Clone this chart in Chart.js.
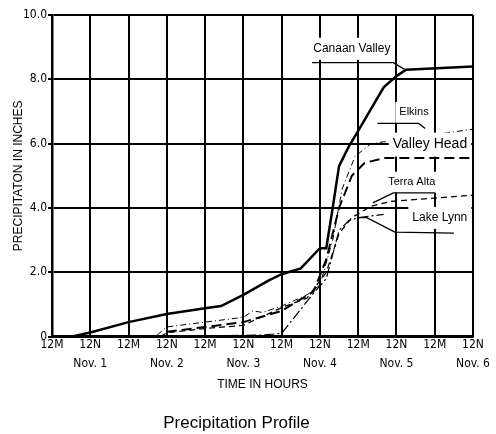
<!DOCTYPE html>
<html lang="en">
<head>
<meta charset="UTF-8">
<title>Precipitation Profile</title>
<script src="https://cdn.jsdelivr.net/npm/chart.js"></script>
<style>
    html, body { margin: 0; padding: 0; background: #fff; }
    #wrap { width: 496px; height: 434px; }
</style>
</head>
<body>
<div id="wrap"><canvas id="precipChart"></canvas></div>
<script>
// x = hours since 12M Nov. 1, y = cumulative precipitation in inches
const tickLabels = ['12M', '12N', '12M', '12N', '12M', '12N', '12M', '12N', '12M', '12N', '12M', '12N'];
const dayLabels = ['', 'Nov. 1', '', 'Nov. 2', '', 'Nov. 3', '', 'Nov. 4', '', 'Nov. 5', '', 'Nov. 6'];
const yTicks = [0, 2, 4, 6, 8, 10];

const canaanHours = [6, 12, 24, 36, 48, 53, 60, 68, 72, 78, 84, 86, 88, 90, 93, 96, 104, 108, 111, 132];
const canaanValues = [0, 0.13, 0.45, 0.7, 0.88, 0.95, 1.3, 1.75, 1.94, 2.12, 2.75, 2.75, 4.0, 5.3, 5.9, 6.4, 7.75, 8.1, 8.3, 8.4];

const elkinsHours = [33, 36, 48, 60, 63, 66, 72, 80, 84, 88, 91, 95, 100, 132];
const elkinsValues = [0.05, 0.3, 0.45, 0.6, 0.8, 0.75, 0.95, 1.3, 1.6, 3.0, 4.6, 5.6, 6.0, 6.45];

const valleyHeadHours = [36, 48, 60, 72, 82, 86, 90, 94, 98, 104, 132];
const valleyHeadValues = [0.15, 0.3, 0.45, 0.8, 1.4, 2.4, 4.0, 5.0, 5.4, 5.55, 5.55];

const terraAltaHours = [34, 36, 48, 60, 72, 80, 86, 90, 94, 100, 106, 132];
const terraAltaValues = [0, 0.12, 0.25, 0.35, 0.9, 1.2, 2.0, 3.2, 3.7, 4.05, 4.2, 4.4];

const lakeLynnHours = [44, 54, 66, 72, 76, 82, 86, 90, 93, 96, 104];
const lakeLynnValues = [0, 0.03, 0.05, 0.1, 0.6, 1.35, 1.8, 3.3, 3.6, 3.7, 3.8];

// station names written on the plot, with their underline / leader line (data units)
const callouts = [
    { text: 'Canaan Valley', at: [94, 8.95], size: 12, line: [[81.5, 8.52], [107, 8.52], [110.7, 8.3]] },
    { text: 'Elkins', at: [113.5, 6.97], size: 11, line: [[102, 6.63], [115, 6.63], [117, 6.47]] },
    { text: 'Valley Head', at: [118.5, 5.97], size: 14, line: [] },
    { text: 'Terra Alta', at: [112.8, 4.8], size: 11, line: [[100.6, 4.16], [107, 4.47], [120, 4.47]] },
    { text: 'Lake Lynn', at: [121.6, 3.69], size: 12, line: [[95.6, 3.7], [98.7, 3.7], [107.5, 3.25], [126, 3.22]] }
];

function toPoints(hours, values) {
    return hours.map((h, i) => ({ x: h, y: values[i] }));
}

const calloutPlugin = {
    id: 'callouts',
    afterDatasetsDraw(chart) {
        const { ctx, scales: { x, y } } = chart;
        ctx.save();
        callouts.forEach(c => {
            ctx.font = c.size + 'px "Liberation Sans", Arial, sans-serif';
            const w = ctx.measureText(c.text).width;
            const cx = x.getPixelForValue(c.at[0]);
            const cy = y.getPixelForValue(c.at[1]);
            ctx.fillStyle = '#fff';
            ctx.fillRect(cx - w / 2 - 4, cy - c.size / 2 - 5, w + 8, c.size + 10);
            ctx.fillStyle = '#000';
            ctx.textAlign = 'center';
            ctx.textBaseline = 'middle';
            ctx.fillText(c.text, cx, cy);
            if (c.line.length) {
                ctx.strokeStyle = '#000';
                ctx.lineWidth = 1.3;
                ctx.setLineDash([]);
                ctx.beginPath();
                c.line.forEach((p, i) => {
                    const px = x.getPixelForValue(p[0]);
                    const py = y.getPixelForValue(p[1]);
                    if (i === 0) ctx.moveTo(px, py); else ctx.lineTo(px, py);
                });
                ctx.stroke();
            }
        });
        ctx.restore();
    }
};

const tickFont = { family: '"Liberation Sans Narrow", "DejaVu Sans Condensed", sans-serif', size: 12, weight: 'normal' };

new Chart(document.getElementById('precipChart'), {
    type: 'line',
    data: {
        datasets: [
            { label: 'Canaan Valley', data: toPoints(canaanHours, canaanValues), borderColor: '#000', borderWidth: 2.5 },
            { label: 'Elkins', data: toPoints(elkinsHours, elkinsValues), borderColor: '#000', borderWidth: 1, borderDash: [6, 3, 1, 3] },
            { label: 'Valley Head', data: toPoints(valleyHeadHours, valleyHeadValues), borderColor: '#000', borderWidth: 2, borderDash: [10, 5] },
            { label: 'Terra Alta', data: toPoints(terraAltaHours, terraAltaValues), borderColor: '#000', borderWidth: 1.3, borderDash: [6, 4] },
            { label: 'Lake Lynn', data: toPoints(lakeLynnHours, lakeLynnValues), borderColor: '#000', borderWidth: 1.2, borderDash: [10, 3, 2, 3] }
        ]
    },
    options: {
        responsive: true,
        maintainAspectRatio: false,
        animation: false,
        layout: { padding: { left: 0, right: 23, top: 15, bottom: 0 } },
        elements: { point: { radius: 0 }, line: { tension: 0, fill: false } },
        scales: {
            x: {
                type: 'linear',
                min: 0,
                max: 132,
                afterFit(scale) { scale.height = 56; },
                border: { color: '#000', width: 2.5 },
                grid: { color: '#000', lineWidth: 2, drawTicks: false },
                afterBuildTicks(scale) { scale.ticks = tickLabels.map((t, i) => ({ value: i * 12 })); },
                ticks: {
                    autoSkip: false,
                    maxRotation: 0,
                    padding: -2,
                    color: '#000',
                    font: Object.assign({ lineHeight: 1.65 }, tickFont),
                    callback: (v, i) => dayLabels[i] ? [tickLabels[i], dayLabels[i]] : tickLabels[i]
                },
                title: {
                    display: true,
                    text: 'TIME IN HOURS',
                    color: '#000',
                    font: { family: '"Liberation Sans", Arial, sans-serif', size: 12 },
                    padding: { top: 0, bottom: 1 }
                }
            },
            y: {
                min: 0,
                max: 10,
                afterFit(scale) { scale.width = 52; },
                afterBuildTicks(scale) { scale.ticks = yTicks.map(v => ({ value: v })); },
                border: { color: '#000', width: 2.5 },
                grid: { color: '#000', lineWidth: 2, tickLength: 4 },
                ticks: {
                    padding: 1,
                    color: '#000',
                    font: tickFont,
                    callback: v => v === 0 ? '0' : v.toFixed(1)
                },
                title: {
                    display: true,
                    text: 'PRECIPITATON IN INCHES',
                    color: '#000',
                    font: { family: '"Liberation Sans", Arial, sans-serif', size: 12 },
                    padding: { top: 11, bottom: 0 }
                }
            }
        },
        plugins: {
            legend: { display: false },
            tooltip: { enabled: false },
            title: {
                display: true,
                position: 'bottom',
                text: 'Precipitation Profile',
                color: '#000',
                font: { family: '"Liberation Sans", Arial, sans-serif', size: 17, weight: 'normal', lineHeight: 1.2 },
                padding: { top: 21, bottom: 0 }
            }
        }
    },
    plugins: [calloutPlugin]
});
</script>
</body>
</html>
